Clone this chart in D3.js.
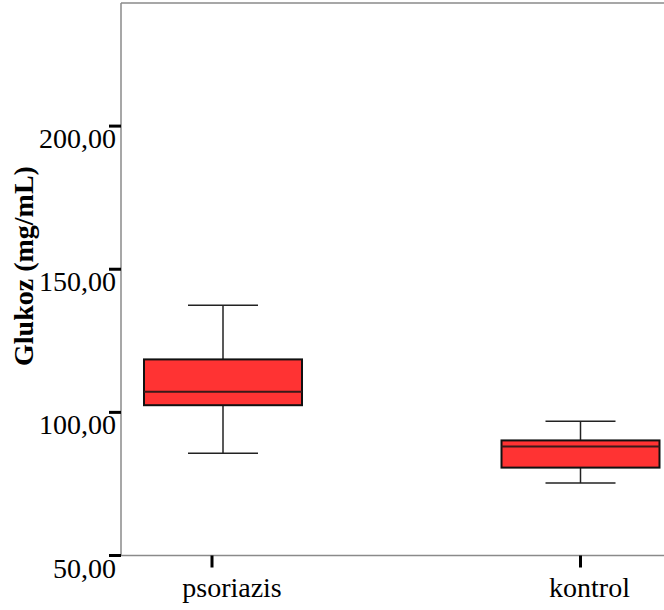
<!DOCTYPE html>
<html>
<head>
<meta charset="utf-8">
<script src="https://cdn.jsdelivr.net/npm/d3@7"></script>
<style>
  html, body { margin: 0; padding: 0; background: #fff; }
  svg { display: block; }
  text { font-family: "Liberation Serif", "Times New Roman", serif; fill: #000; }
</style>
</head>
<body>
<svg id="chart" width="664" height="610"></svg>
<script>
// Glucose distribution per group (box-plot five-number summaries)
const categories = ["psoriazis", "kontrol"];
const whiskerLow  = [85.7, 75.3];
const q1          = [102.5, 80.7];
const medians     = [107.2, 88.1];
const q3          = [118.5, 90.2];
const whiskerHigh = [137.4, 96.9];
const yTicks = [50, 100, 150, 200];
const yLabel = "Glukoz (mg/mL)";

const svg = d3.select("#chart");
const plot = { left: 121, top: 3, right: 700, bottom: 555.5 };

const y = d3.scaleLinear().domain([50, 243]).range([plot.bottom, plot.top]);
const x = d3.scalePoint().domain(categories).range([223, 580.5]);

const boxW = 158, capW = 70;
const fmt = v => d3.format(".2f")(v).replace(".", ",");

// frame
const frame = svg.append("g").attr("stroke", "#8a8a8a").attr("stroke-width", 1.5).attr("fill", "none");
frame.append("line").attr("x1", plot.left).attr("x2", plot.left).attr("y1", plot.top).attr("y2", plot.bottom);
frame.append("line").attr("x1", plot.left).attr("x2", plot.right).attr("y1", plot.top).attr("y2", plot.top);
frame.append("line").attr("x1", plot.left).attr("x2", plot.right).attr("y1", plot.bottom).attr("y2", plot.bottom);

// y axis ticks and labels
const yAxis = svg.append("g");
yAxis.selectAll("rect.tick").data(yTicks).join("rect")
  .attr("x", plot.left - 12).attr("y", d => y(d) - 1.5)
  .attr("width", 12).attr("height", 3).attr("fill", "#000");
yAxis.selectAll("text").data(yTicks).join("text")
  .attr("x", plot.left - 5).attr("y", d => y(d) + 22)
  .attr("text-anchor", "end").attr("font-size", 28)
  .text(fmt);

// x axis ticks and labels
const tickNudge = [-11, 0];
const xAxis = svg.append("g");
xAxis.selectAll("rect").data(categories).join("rect")
  .attr("x", (d, i) => x(d) + tickNudge[i] - 1.5).attr("y", plot.bottom)
  .attr("width", 3).attr("height", 12).attr("fill", "#000");
xAxis.selectAll("text").data(categories).join("text")
  .attr("x", d => x(d) + 9).attr("y", 597)
  .attr("text-anchor", "middle").attr("font-size", 28)
  .text(d => d);

// y axis title
svg.append("text")
  .attr("transform", `translate(33, 266) rotate(-90)`)
  .attr("text-anchor", "middle").attr("font-size", 28).attr("font-weight", "bold")
  .text(yLabel);

// boxes
const boxes = svg.append("g").selectAll("g").data(categories).join("g");
boxes.append("line")
  .attr("x1", d => x(d)).attr("x2", d => x(d))
  .attr("y1", (d, i) => y(whiskerHigh[i])).attr("y2", (d, i) => y(q3[i]))
  .attr("stroke", "#222").attr("stroke-width", 1.5);
boxes.append("line")
  .attr("x1", d => x(d)).attr("x2", d => x(d))
  .attr("y1", (d, i) => y(q1[i])).attr("y2", (d, i) => y(whiskerLow[i]))
  .attr("stroke", "#222").attr("stroke-width", 1.5);
boxes.append("line")
  .attr("x1", d => x(d) - capW / 2).attr("x2", d => x(d) + capW / 2)
  .attr("y1", (d, i) => y(whiskerHigh[i])).attr("y2", (d, i) => y(whiskerHigh[i]))
  .attr("stroke", "#222").attr("stroke-width", 1.5);
boxes.append("line")
  .attr("x1", d => x(d) - capW / 2).attr("x2", d => x(d) + capW / 2)
  .attr("y1", (d, i) => y(whiskerLow[i])).attr("y2", (d, i) => y(whiskerLow[i]))
  .attr("stroke", "#222").attr("stroke-width", 1.5);
boxes.append("rect")
  .attr("x", d => x(d) - boxW / 2).attr("width", boxW)
  .attr("y", (d, i) => y(q3[i])).attr("height", (d, i) => y(q1[i]) - y(q3[i]))
  .attr("fill", "#ff3333").attr("stroke", "#111").attr("stroke-width", 2);
boxes.append("line")
  .attr("x1", d => x(d) - boxW / 2).attr("x2", d => x(d) + boxW / 2)
  .attr("y1", (d, i) => y(medians[i])).attr("y2", (d, i) => y(medians[i]))
  .attr("stroke", "#3a1a1a").attr("stroke-width", 2);
</script>
</body>
</html>
